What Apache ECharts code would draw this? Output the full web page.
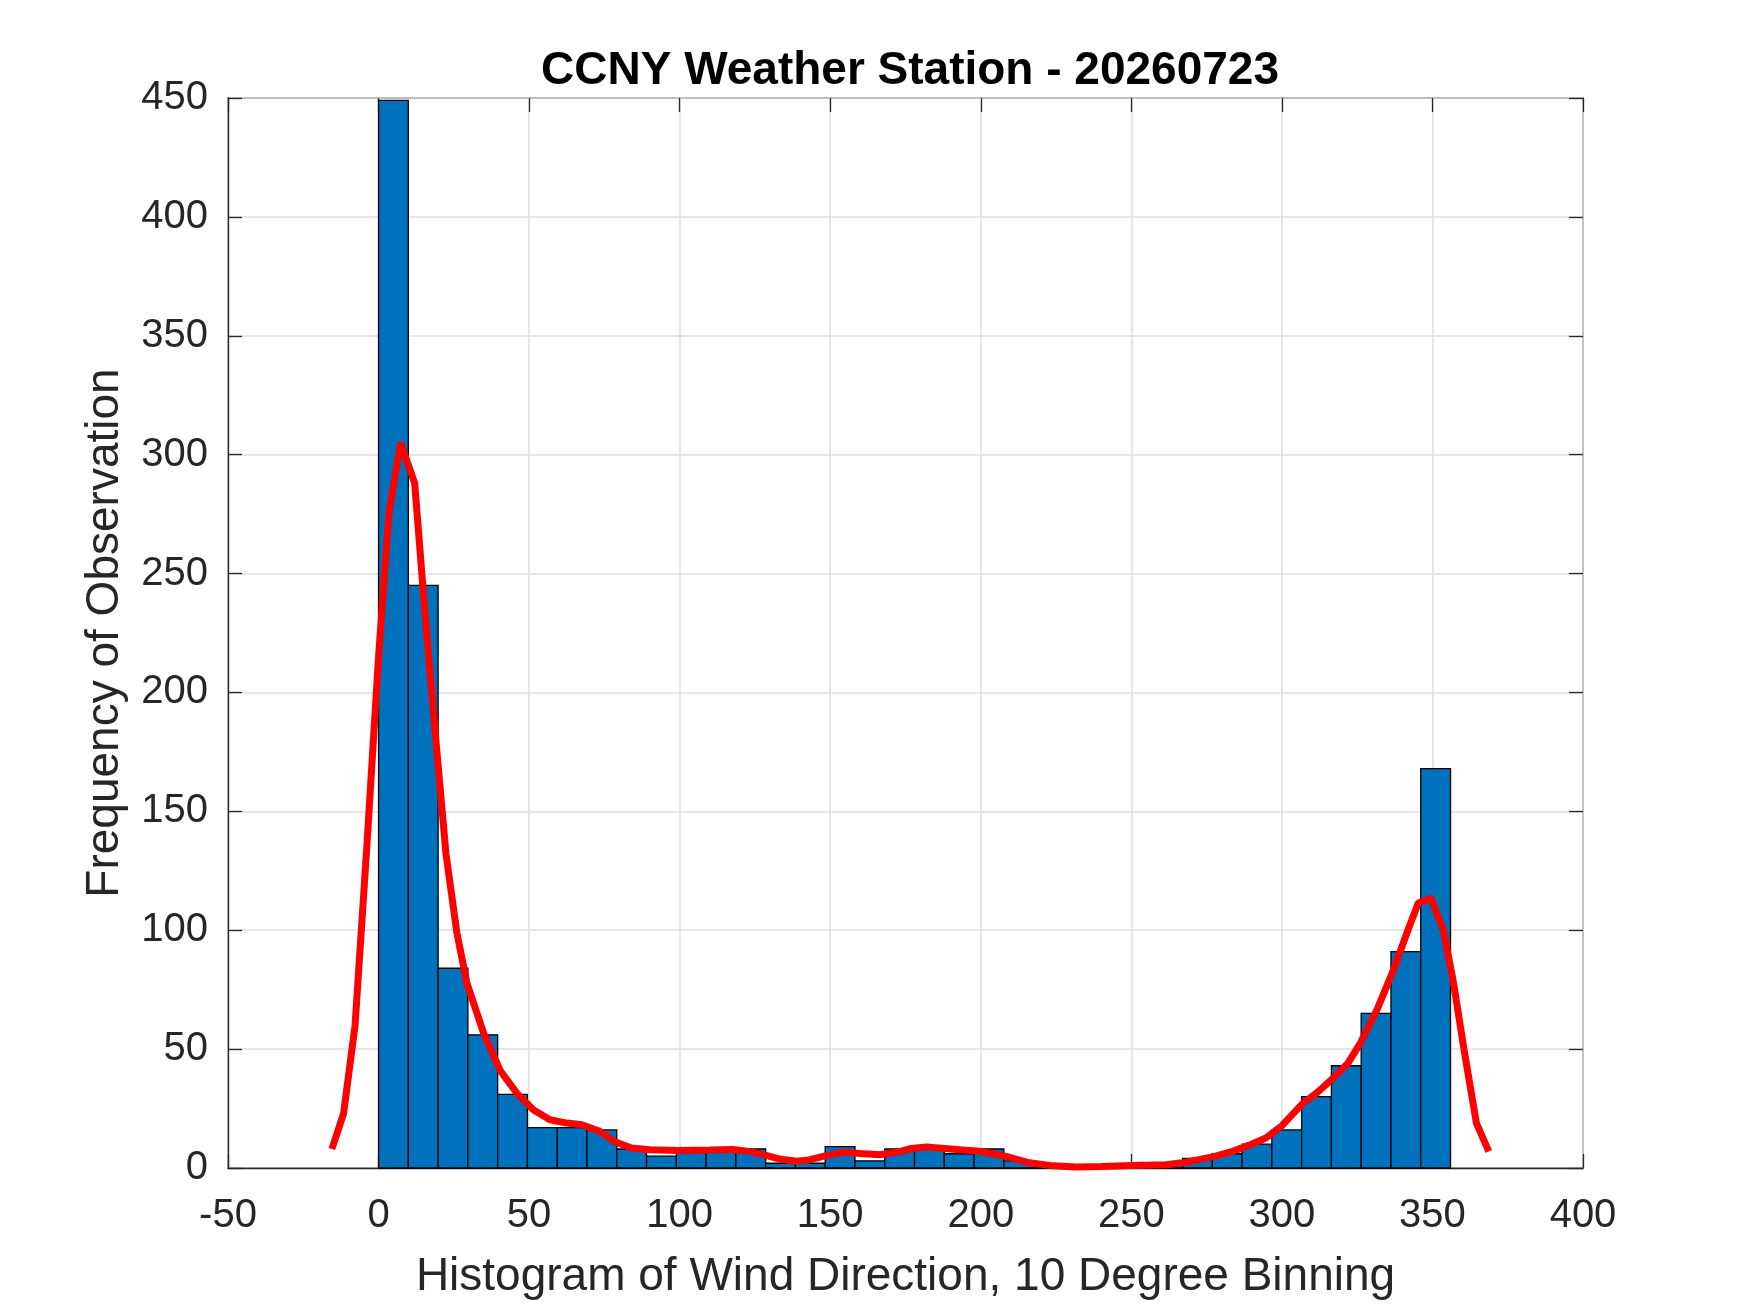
<!DOCTYPE html>
<html>
<head>
<meta charset="utf-8">
<script src="https://cdn.jsdelivr.net/npm/echarts@6/dist/echarts.min.js"></script>
<style>
  html, body { margin: 0; padding: 0; background: #fff; }
  #chart { width: 1750px; height: 1313px; }
</style>
</head>
<body>
<div id="chart"></div>
<script>
// histogram: 36 bins from 0 to 356 deg
var binWidth = 356 / 36;
var counts = [449, 245, 84, 56, 31, 17, 17, 16, 8, 5, 8, 8, 8, 2, 2, 9, 3, 8,
              9, 6, 8, 3, 1, 0, 1, 1, 2, 4, 6, 10, 16, 30, 43, 65, 91, 168];

// red density curve
var curveX = [-15.5, -11.6, -7.8, -3.9, 0, 3.5, 7.3, 12, 15.5, 18.9, 22.4, 26, 29.3, 34.8,
              40.4, 45.9, 51.4, 56.9, 62.5, 67.5, 73.5, 78.5, 84, 90, 100, 110, 117.7, 123,
              127.7, 133, 138.8, 143, 147.6, 154.2, 160, 166.4, 172, 177, 181.9, 188, 194,
              199.6, 204, 208.4, 216.1, 224, 231.6, 240, 250.4, 261.5, 267, 272.5, 278,
              283.6, 289, 294.7, 300, 306.8, 311.5, 316.4, 322, 326.1, 331.6, 337.1, 341.9,
              345.3, 349.5, 353.6, 357, 360.5, 364.6, 368.7];
var curveY = [8, 23, 60, 135, 215, 276, 305, 288, 232, 182, 132, 99, 78, 57,
              41, 31.5, 24.5, 20.3, 18.9, 18.2, 15.4, 11, 8.4, 7.7, 7.4, 7.6, 7.8, 7,
              5.6, 3.8, 2.8, 3.4, 4.9, 6.6, 6.1, 5.6, 6.6, 8.2, 8.8, 8.2, 7.6,
              7, 6, 4.9, 2.2, 0.9, 0.4, 0.6, 1, 1.4, 2.2, 3.5, 5,
              7, 9.5, 12.6, 17.8, 27, 31.5, 37.1, 44.2, 52.6, 66.6, 83.4, 100.2,
              111.4, 113.5, 100.2, 77.8, 49.7, 18.9, 7];

var xTicks = [-50, 400, 50];
var yTicks = [0, 450, 50];

var font = "'Liberation Sans', Arial, Helvetica, sans-serif";
var ink = '#262626';

var bars = counts.map(function (c, i) { return [i * binWidth, (i + 1) * binWidth, c]; });
var curve = curveX.map(function (x, i) { return [x, curveY[i]]; });

var chart = echarts.init(document.getElementById('chart'));

// extra axes that only put inward ticks on the top and right edges of the box
function tickAxis(pos) {
  var t = pos == 'top' ? xTicks : yTicks;
  return {
    type: 'value', position: pos,
    min: t[0], max: t[1], interval: t[2],
    axisLine: { show: false, onZero: false },
    axisTick: { show: true, inside: true, length: 14, lineStyle: { color: ink, width: 1.3 } },
    axisLabel: { show: false },
    splitLine: { show: false }
  };
}

var option = {
  backgroundColor: '#fff',
  animation: false,
  title: {
    text: 'CCNY Weather Station - 20260723',
    left: 905, top: 43, textAlign: 'center',
    textStyle: { fontFamily: font, fontSize: 46, fontWeight: 'bold', color: '#000' }
  },
  grid: {
    left: 228, right: 167, top: 98, bottom: 145,
    show: true, borderColor: ink, borderWidth: 1.3, backgroundColor: '#fff'
  },
  xAxis: [{
    type: 'value', min: xTicks[0], max: xTicks[1], interval: xTicks[2],
    name: 'Histogram of Wind Direction, 10 Degree Binning',
    nameLocation: 'middle', nameGap: 86,
    nameTextStyle: { fontFamily: font, fontSize: 46, color: ink },
    axisLine: { show: true, onZero: false, lineStyle: { color: ink, width: 1.3 } },
    axisTick: { show: true, inside: true, length: 14, lineStyle: { color: ink, width: 1.3 } },
    axisLabel: { fontFamily: font, fontSize: 40, color: ink, margin: 28 },
    splitLine: { show: true, lineStyle: { color: '#dedede', width: 1.5 } }
  }, tickAxis('top')],
  yAxis: [{
    type: 'value', min: yTicks[0], max: yTicks[1], interval: yTicks[2],
    name: 'Frequency of Observation',
    nameLocation: 'middle', nameGap: 100,
    nameTextStyle: { fontFamily: font, fontSize: 46, color: ink },
    axisLine: { show: true, onZero: false, lineStyle: { color: ink, width: 1.3 } },
    axisTick: { show: true, inside: true, length: 14, lineStyle: { color: ink, width: 1.3 } },
    axisLabel: { fontFamily: font, fontSize: 40, color: ink, margin: 20 },
    splitLine: { show: true, lineStyle: { color: '#dedede', width: 1.5 } }
  }, tickAxis('right')],
  series: [{
    type: 'custom',
    xAxisIndex: 0, yAxisIndex: 0,
    data: bars,
    encode: { x: [0, 1], y: 2 },
    renderItem: function (params, api) {
      var p0 = api.coord([api.value(0), 0]);
      var p1 = api.coord([api.value(1), api.value(2)]);
      return {
        type: 'rect',
        shape: { x: p0[0], y: p1[1], width: p1[0] - p0[0], height: p0[1] - p1[1] },
        style: { fill: '#0072BD', stroke: '#000', lineWidth: 1.3 }
      };
    },
    z: 2
  }, {
    type: 'line',
    xAxisIndex: 0, yAxisIndex: 0,
    data: curve,
    showSymbol: false,
    clip: false,
    lineStyle: { color: '#ff0000', width: 7 },
    z: 3
  }]
};

chart.setOption(option);
</script>
</body>
</html>
